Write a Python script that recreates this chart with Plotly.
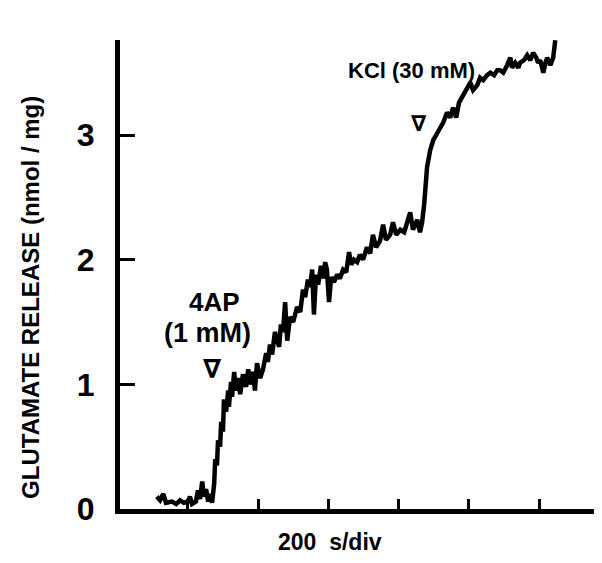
import plotly.graph_objects as go

# Time (s) and glutamate release (nmol/mg)
time_s = [112, 121, 130, 138, 155, 167, 178, 189, 201, 206, 212, 223, 229, 235, 241, 246, 252, 258, 263, 269,
          275, 278, 283, 286, 292, 295, 300, 303, 309, 315, 317, 323, 326, 332, 337, 343, 349, 357, 366, 372,
          377, 386, 391, 397, 406, 414, 423, 428, 434, 440, 448, 454, 460, 465, 471, 477, 483, 491, 500, 511,
          520, 528, 534, 542, 548, 554, 559, 565, 571, 579, 585, 591, 596, 602, 608, 616, 625, 633, 642, 651,
          659, 665, 673, 682, 690, 699, 710, 719, 727, 736, 747, 756, 764, 776, 784, 793, 805, 816, 824, 833,
          841, 853, 861, 867, 873, 876, 881, 890, 899, 907, 918, 927, 938, 947, 955, 964, 972, 984, 992, 1004,
          1012, 1024, 1032, 1041, 1052, 1061, 1072, 1081, 1089, 1098, 1109, 1118, 1123, 1132, 1141, 1146, 1157,
          1166, 1175, 1183, 1192, 1197, 1203, 1212, 1218, 1223, 1232, 1240, 1246]
release = [0.10, 0.07, 0.12, 0.05, 0.06, 0.04, 0.07, 0.05, 0.06, 0.10, 0.04, 0.06, 0.15, 0.08, 0.22, 0.10, 0.16, 0.06, 0.12, 0.05,
           0.20, 0.40, 0.35, 0.55, 0.50, 0.70, 0.62, 0.88, 0.78, 0.95, 0.82, 1.02, 0.90, 1.10, 0.95, 1.05, 0.92, 1.08, 0.98, 1.12,
           1.00, 1.10, 0.95, 1.17, 1.05, 1.12, 1.25, 1.18, 1.32, 1.24, 1.42, 1.36, 1.30, 1.48, 1.42, 1.66, 1.35, 1.54, 1.50, 1.62,
           1.58, 1.76, 1.70, 1.84, 1.78, 1.92, 1.56, 1.88, 1.80, 1.95, 1.85, 1.98, 1.92, 1.66, 1.86, 1.82, 1.88, 1.85, 1.92, 1.90,
           2.06, 1.96, 2.00, 1.98, 2.04, 2.00, 2.10, 2.05, 2.20, 2.10, 2.15, 2.28, 2.16, 2.20, 2.30, 2.20, 2.24, 2.22, 2.30, 2.38,
           2.24, 2.32, 2.22, 2.30, 2.45, 2.60, 2.74, 2.88, 2.96, 3.00, 3.06, 3.10, 3.18, 3.14, 3.22, 3.14, 3.26, 3.32, 3.36, 3.42,
           3.36, 3.40, 3.46, 3.44, 3.48, 3.50, 3.48, 3.52, 3.52, 3.50, 3.56, 3.62, 3.54, 3.58, 3.54, 3.58, 3.60,
           3.64, 3.60, 3.66, 3.62, 3.58, 3.60, 3.50, 3.58, 3.62, 3.56, 3.62, 3.76]

y_tick_vals = [0, 1, 2, 3]
y_tick_text = ["<b>0</b>", "<b>1</b>", "<b>2</b>", "<b>3</b>"]
x_tick_vals = [200, 400, 600, 800, 1000, 1200]

FONT = "Liberation Sans, Arial, sans-serif"

fig = go.Figure()
fig.add_trace(go.Scatter(x=time_s, y=release, mode="lines",
                         line=dict(color="black", width=4.5), hoverinfo="skip"))

def ann(size, fam=FONT):
    return dict(showarrow=False, xanchor="center", yanchor="middle",
                font=dict(family=fam, size=size, color="black"))

fig.add_annotation(x=275, y=1.66, xref="x", yref="y", text="<b>4AP</b>", **ann(26))
fig.add_annotation(x=255, y=1.41, xref="x", yref="y", text="<b>(1 mM)</b>", **ann(27))
fig.add_annotation(x=269, y=1.12, xref="x", yref="y", text="<b>∇</b>", **ann(26, "DejaVu Sans"))
fig.add_annotation(x=836, y=3.52, xref="x", yref="y", text="<b>KCl (30 mM)</b>", **ann(22))
fig.add_annotation(x=858, y=3.09, xref="x", yref="y", text="<b>∇</b>", **ann(22, "DejaVu Sans"))

fig.add_annotation(x=-0.187, y=0.452, xref="paper", yref="paper",
                   text="<b>GLUTAMATE RELEASE (nmol / mg)</b>", textangle=-90, **ann(24))
fig.add_annotation(x=0.436, y=-0.070, xref="paper", yref="paper",
                   text="<b>200  s/div</b>", **ann(23))

fig.update_layout(
    width=594, height=555,
    margin=dict(l=112, r=0, t=32, b=54),
    paper_bgcolor="white", plot_bgcolor="white",
    showlegend=False,
    xaxis=dict(range=[7, 1379], showgrid=False, zeroline=False,
               showline=True, linecolor="black", linewidth=5,
               ticks="inside", tickvals=x_tick_vals, ticklen=10, tickwidth=3, tickcolor="black",
               showticklabels=False),
    yaxis=dict(range=[0, 3.762], showgrid=False, zeroline=False,
               showline=True, linecolor="black", linewidth=5,
               ticks="inside", tickvals=y_tick_vals, ticktext=y_tick_text,
               ticklen=15, tickwidth=3, tickcolor="black",
               ticklabelstandoff=14,
               tickfont=dict(family=FONT, size=32, color="black")),
)

fig.write_html("out.html")
